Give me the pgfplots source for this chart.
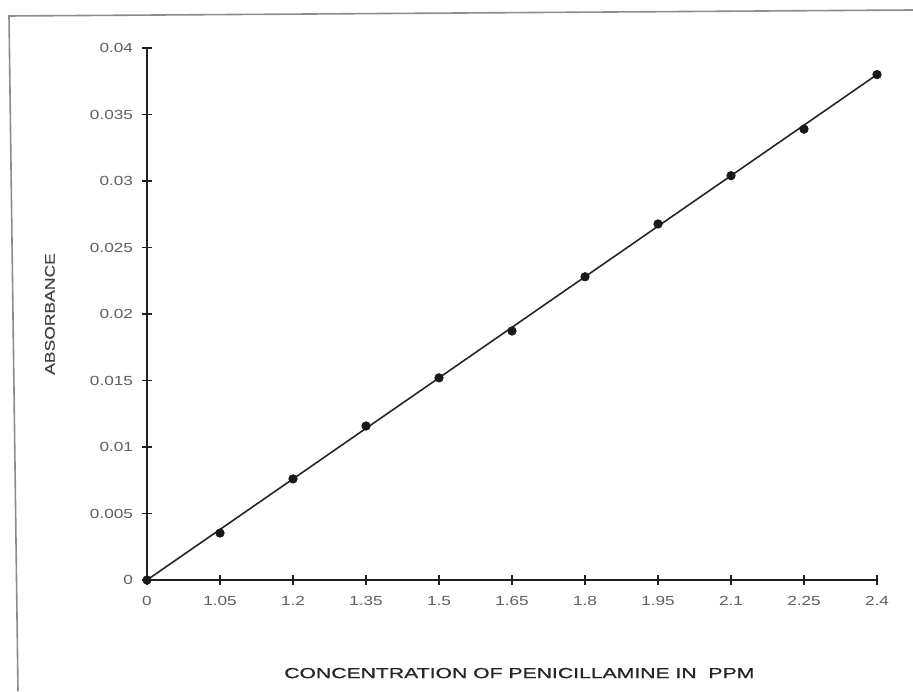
\documentclass[border=0pt]{standalone}
\usepackage{fontspec}
\setmainfont{Liberation Sans}
\newfontfamily\tickfont{Liberation Sans}[FakeStretch=1.3]
\newfontfamily\xlabfont{Liberation Sans}[FakeStretch=1.45,FakeBold=0.8]
\newfontfamily\ylabfont{Liberation Sans}[FakeStretch=1.25,FakeBold=0.3]
\usepackage{pgfplots}
\pgfplotsset{compat=1.18}
\definecolor{ticktext}{RGB}{95,95,95}
\definecolor{axline}{RGB}{30,30,40}
\definecolor{framec}{RGB}{140,140,140}
\begin{document}
\begin{tikzpicture}[x=1pt,y=1pt]
\path[use as bounding box] (0,0) rectangle (456.5,345.5);
\draw[framec, line width=0.8pt] (9,0) -- (4.5,337.5) -- (456.5,340.5);
\begin{axis}[
  at={(73.5pt,55.5pt)}, anchor=south west,
  scale only axis, width=365pt, height=266pt,
  xmin=0, xmax=10, ymin=0, ymax=0.04,
  axis lines=left,
  axis line style={-, line width=1pt, axline},
  tick style={line width=0.9pt, axline},
  tick align=center, major tick length=5pt,
  xtick={0,1,2,3,4,5,6,7,8,9,10},
  xticklabels={0,1.05,1.2,1.35,1.5,1.65,1.8,1.95,2.1,2.25,2.4},
  ytick={0,0.005,0.01,0.015,0.02,0.025,0.03,0.035,0.04},
  yticklabels={0,0.005,0.01,0.015,0.02,0.025,0.03,0.035,0.04},
  scaled y ticks=false,
  ticklabel style={font=\tickfont\fontsize{6.6}{7}\selectfont, text=ticktext},
  xticklabel style={yshift=-2pt},
  yticklabel style={xshift=-1pt},
  xlabel={CONCENTRATION OF PENICILLAMINE IN\ \ PPM},
  xlabel style={at={(axis description cs:0.51,-0.175)}, anchor=center, font=\xlabfont\fontsize{7.3}{8}\selectfont, text=black!85},
  ylabel={ABSORBANCE},
  ylabel style={at={(axis description cs:-0.133,0.5)}, anchor=center, font=\ylabfont\fontsize{7}{8}\selectfont, text=black!75},
  clip=false,
]
\addplot[black!85, line width=0.8pt, no markers] coordinates {(0,0) (10,0.038)};
\addplot[only marks, mark=*, mark size=2.1pt, black!90] coordinates {
  (0,0) (1,0.00353) (2,0.0076) (3,0.01158) (4,0.0152) (5,0.01872)
  (6,0.0228) (7,0.02677) (8,0.0304) (9,0.0339) (10,0.038)
};
\end{axis}
\end{tikzpicture}
\end{document}
